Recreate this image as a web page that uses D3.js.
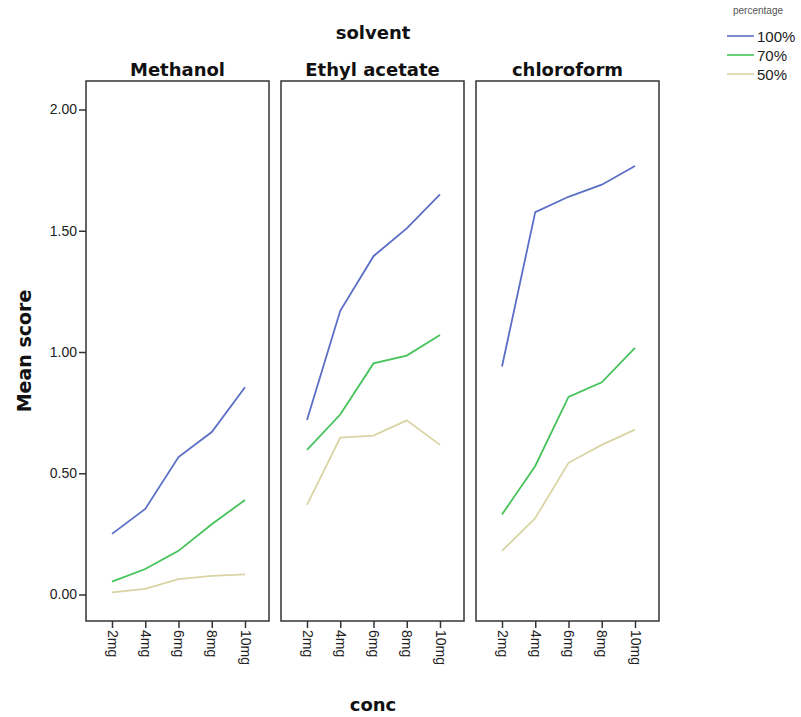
<!DOCTYPE html>
<html>
<head>
<meta charset="utf-8">
<script src="https://cdn.jsdelivr.net/npm/d3@7"></script>
<style>
  body { margin: 0; background: #fff; }
  text { font-family: "Liberation Sans", Arial, sans-serif; }
</style>
</head>
<body>
<div id="chart-area"></div>
<script>
// data
var solvents = ["Methanol", "Ethyl acetate", "chloroform"];
var concs = ["2mg", "4mg", "6mg", "8mg", "10mg"];
var percentages = ["100%", "70%", "50%"];
var yTicks = [0, 0.5, 1.0, 1.5, 2.0];

var methanol100 = [0.25, 0.353, 0.567, 0.67, 0.855];
var methanol70 = [0.053, 0.105, 0.18, 0.29, 0.39];
var methanol50 = [0.009, 0.023, 0.063, 0.077, 0.083];
var ethyl100 = [0.72, 1.17, 1.395, 1.51, 1.65];
var ethyl70 = [0.596, 0.742, 0.953, 0.985, 1.07];
var ethyl50 = [0.37, 0.647, 0.655, 0.718, 0.617];
var chloro100 = [0.94, 1.577, 1.64, 1.69, 1.767];
var chloro70 = [0.33, 0.53, 0.815, 0.875, 1.017];
var chloro50 = [0.18, 0.315, 0.543, 0.617, 0.68];

var series = [
    [methanol100, methanol70, methanol50],
    [ethyl100, ethyl70, ethyl50],
    [chloro100, chloro70, chloro50]
];
var colors = ["#5b6fc6", "#45c35a", "#d9d4a4"];

var titleFont = "DejaVu Sans, Verdana, sans-serif";
var tickFont = "Liberation Sans, Arial, sans-serif";

var svg = d3.select("#chart-area").append("svg")
    .attr("width", 801)
    .attr("height", 717);

var panelLeft = 86, panelTop = 81, panelBottom = 621, panelW = 183, panelStep = 195;

var y = d3.scaleLinear()
    .domain([0, 2])
    .range([594.5, 109.5]);

var x = d3.scalePoint()
    .domain(concs)
    .range([26, 159]);

// y axis (left panel only)
var yAxis = svg.append("g")
    .attr("transform", "translate(" + panelLeft + ",0)")
    .call(d3.axisLeft(y).tickValues(yTicks).tickSize(7).tickPadding(2).tickFormat(d3.format(".2f")));
yAxis.select(".domain").remove();
yAxis.selectAll("line").attr("stroke", "#333").attr("stroke-width", 1.5);
yAxis.selectAll("text").attr("font-size", "14px").attr("fill", "#222")
    .style("font-family", tickFont);

var line = d3.line()
    .x(function(d, i){ return x(concs[i]); })
    .y(function(d){ return y(d); });

solvents.forEach(function(s, p){
    var g = svg.append("g")
        .attr("transform", "translate(" + (panelLeft + p * panelStep) + ",0)");

    g.append("text")
        .attr("x", panelW / 2)
        .attr("y", 76)
        .attr("text-anchor", "middle")
        .attr("font-size", "18px")
        .attr("font-weight", "bold")
        .attr("fill", "#111")
        .style("font-family", titleFont)
        .text(s);

    series[p].forEach(function(vals, k){
        g.append("path")
            .datum(vals)
            .attr("d", line)
            .attr("fill", "none")
            .attr("stroke", colors[k])
            .attr("stroke-width", 1.8);
    });

    g.append("rect")
        .attr("x", 0)
        .attr("y", panelTop)
        .attr("width", panelW)
        .attr("height", panelBottom - panelTop)
        .attr("fill", "none")
        .attr("stroke", "#333")
        .attr("stroke-width", 1.5);

    var xAxis = g.append("g")
        .attr("transform", "translate(0," + panelBottom + ")")
        .call(d3.axisBottom(x).tickSize(7).tickPadding(2));
    xAxis.select(".domain").remove();
    xAxis.selectAll("line").attr("stroke", "#333").attr("stroke-width", 1.5);
    xAxis.selectAll("text")
        .attr("font-size", "14px")
        .attr("fill", "#222")
        .attr("text-anchor", "start")
        .attr("dy", "0.35em")
        .attr("transform", "translate(0,9) rotate(90)")
        .attr("x", 0)
        .attr("y", 0)
        .style("font-family", tickFont);
});

svg.append("text")
    .attr("x", 373).attr("y", 39)
    .attr("text-anchor", "middle")
    .attr("font-size", "18px").attr("font-weight", "bold").attr("fill", "#111")
    .style("font-family", titleFont)
    .text("solvent");

svg.append("text")
    .attr("x", 373).attr("y", 711)
    .attr("text-anchor", "middle")
    .attr("font-size", "18px").attr("font-weight", "bold").attr("fill", "#111")
    .style("font-family", titleFont)
    .text("conc");

svg.append("text")
    .attr("transform", "translate(31,351) rotate(-90)")
    .attr("text-anchor", "middle")
    .attr("font-size", "19px").attr("font-weight", "bold").attr("fill", "#111")
    .style("font-family", titleFont)
    .text("Mean score");

// legend
var legend = svg.append("g");
legend.append("text")
    .attr("x", 733).attr("y", 14)
    .attr("font-size", "10px").attr("fill", "#555")
    .text("percentage");
percentages.forEach(function(pc, k){
    var ly = 36 + k * 19;
    legend.append("line")
        .attr("x1", 727).attr("x2", 754)
        .attr("y1", ly).attr("y2", ly)
        .attr("stroke", colors[k]).attr("stroke-width", 1.6);
    legend.append("text")
        .attr("x", 757).attr("y", ly + 6)
        .attr("font-size", "15px").attr("fill", "#222")
        .text(pc);
});
</script>
</body>
</html>
